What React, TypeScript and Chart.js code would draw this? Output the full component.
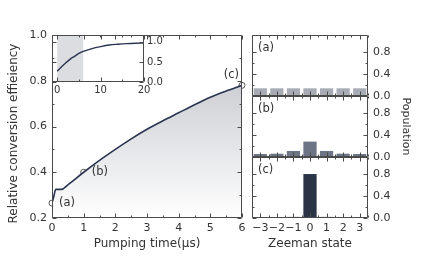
import React, { useEffect, useRef } from 'react';
import { Chart, registerables } from 'chart.js';

Chart.register(...registerables);

// ---------- data ----------
const pumpTime = [0, 0.05, 0.12, 0.3, 0.5, 1, 1.5, 2, 2.5, 3, 3.5, 4, 4.5, 5, 5.5, 6];
const efficiency = [0.265, 0.29, 0.325, 0.325, 0.345, 0.4, 0.452, 0.5, 0.546, 0.588, 0.625, 0.66, 0.695, 0.728, 0.755, 0.78];
const markerTime = [0, 1, 6];
const markerEff = [0.265, 0.4, 0.78];
const markerLabels = ['(a)', '(b)', '(c)'];

const insetTime = [0, 1, 2, 3, 4, 5, 6, 8, 10, 12, 14, 16, 18, 20];
const insetEff = [0.27, 0.38, 0.48, 0.57, 0.64, 0.71, 0.76, 0.83, 0.88, 0.92, 0.94, 0.955, 0.965, 0.97];
const insetShade = [0, 6];

const zeemanStates = ['\u22123', '\u22122', '\u22121', '0', '1', '2', '3'];
const populationA = [0.14, 0.14, 0.14, 0.14, 0.14, 0.14, 0.14];
const populationB = [0.055, 0.06, 0.11, 0.28, 0.11, 0.06, 0.055];
const populationC = [0.005, 0.005, 0.02, 0.8, 0.02, 0.005, 0.005];
const panelLetters = ['(a)', '(b)', '(c)'];

const mainXTicks = [0, 1, 2, 3, 4, 5, 6];
const mainYTicks = [0.2, 0.4, 0.6, 0.8, 1.0];
const insetXTicks = [0, 10, 20];
const insetYTicks = [0, 0.5, 1.0];
const panelYTicks = [0, 0.4, 0.8];

// ---------- style ----------
const FONT = 'DejaVu Sans';
const AXIS = '#4a4a4a';
const TEXT = '#333333';
const LINE = '#2a3350';
const BAR_COLORS = ['#a8acb5', '#6d7485', '#2b3447'];

// ---------- plugins ----------
const frameTicks = {
  id: 'frameTicks',
  afterDatasetsDraw(chart: any, _a: any, o: any) {
    if (!o || !o.on) return;
    const { ctx, chartArea: a, scales } = chart;
    const L = Math.round(a.left) + 0.5;
    const R = Math.round(a.right) - 0.5;
    const T = Math.round(a.top) + 0.5;
    const B = Math.round(a.bottom) - 0.5;
    ctx.save();
    ctx.strokeStyle = o.color;
    ctx.lineWidth = 1;
    ctx.beginPath();
    ctx.moveTo(L, T);
    ctx.lineTo(R, T);
    ctx.lineTo(R, B);
    ctx.lineTo(L, B);
    ctx.lineTo(L, T);
    ctx.stroke();
    ctx.beginPath();
    const xs = scales.x;
    const ys = scales.y;
    const xt = (vals: number[], len: number) => {
      vals.forEach((v) => {
        const p = Math.round(xs.getPixelForValue(v)) + 0.5;
        ctx.moveTo(p, B);
        ctx.lineTo(p, B - len);
        ctx.moveTo(p, T);
        ctx.lineTo(p, T + len);
      });
    };
    const yt = (vals: number[], len: number) => {
      vals.forEach((v) => {
        const p = Math.round(ys.getPixelForValue(v)) + 0.5;
        ctx.moveTo(L, p);
        ctx.lineTo(L + len, p);
        ctx.moveTo(R, p);
        ctx.lineTo(R - len, p);
      });
    };
    xt(o.xMajor, 4);
    xt(o.xMinor, 2);
    yt(o.yMajor, 4);
    yt(o.yMinor, 2);
    ctx.stroke();
    ctx.restore();
  },
};

const textTags = {
  id: 'textTags',
  afterDatasetsDraw(chart: any, _a: any, o: any) {
    if (!o || !o.on) return;
    const { ctx, chartArea: a } = chart;
    ctx.save();
    ctx.font = `${o.size}px "${FONT}"`;
    ctx.fillStyle = TEXT;
    ctx.textBaseline = 'middle';
    if (o.dataset !== undefined) {
      const meta = chart.getDatasetMeta(o.dataset);
      meta.data.forEach((p: any, i: number) => {
        const [dx, dy, align] = o.offsets[i];
        ctx.textAlign = align;
        ctx.fillText(o.labels[i], p.x + dx, p.y + dy);
      });
    } else {
      ctx.textAlign = 'left';
      ctx.fillText(o.text, a.left + 6, a.top + 13);
    }
    ctx.restore();
  },
};

const sideTitle = {
  id: 'sideTitle',
  afterDraw(chart: any, _a: any, o: any) {
    if (!o || !o.on) return;
    const { ctx, chartArea: a } = chart;
    ctx.save();
    ctx.font = `${o.size}px "${FONT}"`;
    ctx.fillStyle = TEXT;
    ctx.textAlign = 'center';
    ctx.textBaseline = 'middle';
    ctx.translate(o.x, (a.top + a.bottom) / 2 + o.dy);
    ctx.rotate(-Math.PI / 2);
    ctx.fillText(o.text, 0, 0);
    ctx.restore();
  },
};

const shade = {
  id: 'shade',
  beforeDatasetsDraw(chart: any, _a: any, o: any) {
    if (!o || !o.on) return;
    const { ctx, chartArea: a, scales } = chart;
    const x0 = scales.x.getPixelForValue(o.range[0]);
    const x1 = scales.x.getPixelForValue(o.range[1]);
    ctx.save();
    ctx.fillStyle = o.color;
    ctx.fillRect(x0, a.top, x1 - x0, a.bottom - a.top);
    ctx.restore();
  },
};

Chart.register(frameTicks as any, textTags as any, shade as any, sideTitle as any);

const tickFont = (size: number) => ({ family: FONT, size });

function fixedTicks(vals: number[]) {
  return (s: any) => {
    s.ticks = vals.map((v) => ({ value: v }));
  };
}

function vFit(width: number) {
  return (s: any) => {
    s.width = width;
    s.paddingTop = 0;
    s.paddingBottom = 0;
  };
}

// ---------- chart configs ----------
function mainConfig(): any {
  return {
    type: 'line',
    data: {
      datasets: [
        {
          data: pumpTime.map((x, i) => ({ x, y: efficiency[i] })),
          borderColor: LINE,
          borderWidth: 1.6,
          pointRadius: 0,
          cubicInterpolationMode: 'monotone',
          fill: 'start',
          backgroundColor: (c: any) => {
            const area = c.chart.chartArea;
            if (!area) return 'rgba(0,0,0,0)';
            const g = c.chart.ctx.createLinearGradient(0, area.top, 0, area.bottom);
            g.addColorStop(0, '#c3c6cc');
            g.addColorStop(0.3, '#cfd1d6');
            g.addColorStop(1, '#ffffff');
            return g;
          },
        },
        {
          data: markerTime.map((x, i) => ({ x, y: markerEff[i] })),
          showLine: false,
          pointRadius: 3,
          pointBorderWidth: 1,
          pointBorderColor: '#555555',
          pointBackgroundColor: 'rgba(255,255,255,0.35)',
          clip: false,
        },
      ],
    },
    options: {
      responsive: false,
      animation: false,
      events: [],
      layout: { padding: { left: 0, top: 35, right: 8, bottom: 0 } },
      plugins: {
        legend: { display: false },
        tooltip: { enabled: false },
        frameTicks: {
          on: true,
          color: AXIS,
          xMajor: mainXTicks,
          xMinor: mainXTicks.slice(0, -1).map((v) => v + 0.5),
          yMajor: mainYTicks,
          yMinor: mainYTicks.slice(0, -1).map((v) => v + 0.1),
        },
        textTags: {
          on: true,
          dataset: 1,
          size: 11.5,
          labels: markerLabels,
          offsets: [
            [7, 0, 'left'],
            [8, 0, 'left'],
            [-3, -10, 'right'],
          ],
        },
        sideTitle: { on: true, text: 'Relative conversion effieiency', size: 12, x: 14, dy: 7 },
      },
      scales: {
        x: {
          type: 'linear',
          min: 0,
          max: 6,
          afterFit: (s: any) => {
            s.height = 54;
          },
          afterBuildTicks: fixedTicks(mainXTicks),
          grid: { display: false, drawTicks: false },
          border: { display: false },
          ticks: { padding: 4, color: TEXT, font: tickFont(11), maxRotation: 0 },
          title: {
            display: true,
            text: 'Pumping time(\u03bcs)',
            color: TEXT,
            font: { family: FONT, size: 12 },
            padding: { top: 0, bottom: 21 },
          },
        },
        y: {
          type: 'linear',
          min: 0.2,
          max: 1.0,
          afterFit: vFit(52),
          afterBuildTicks: fixedTicks(mainYTicks),
          grid: { display: false, drawTicks: false },
          border: { display: false },
          ticks: { padding: 5, color: TEXT, font: tickFont(11), callback: (v: number) => v.toFixed(1) },
          title: { display: false },
        },
      },
    },
  };
}

function insetConfig(): any {
  return {
    type: 'line',
    data: {
      datasets: [
        {
          data: insetTime.map((x, i) => ({ x, y: insetEff[i] })),
          borderColor: LINE,
          borderWidth: 1.4,
          pointRadius: 0,
          cubicInterpolationMode: 'monotone',
          fill: false,
        },
      ],
    },
    options: {
      responsive: false,
      animation: false,
      events: [],
      layout: { padding: { left: 6, top: 5, right: 0, bottom: 0 } },
      plugins: {
        legend: { display: false },
        tooltip: { enabled: false },
        shade: { on: true, range: insetShade, color: '#dcdde0' },
        frameTicks: {
          on: true,
          color: AXIS,
          xMajor: insetXTicks,
          xMinor: [5, 15],
          yMajor: insetYTicks,
          yMinor: [],
        },
      },
      scales: {
        x: {
          type: 'linear',
          min: -1.2,
          max: 20,
          afterFit: (s: any) => {
            s.height = 16;
          },
          afterBuildTicks: fixedTicks(insetXTicks),
          grid: { display: false, drawTicks: false },
          border: { display: false },
          ticks: { padding: 2, color: TEXT, font: tickFont(10), maxRotation: 0 },
        },
        y: {
          type: 'linear',
          position: 'right',
          min: 0,
          max: 1.17,
          afterFit: vFit(26),
          afterBuildTicks: fixedTicks(insetYTicks),
          grid: { display: false, drawTicks: false },
          border: { display: false },
          ticks: { padding: 3, color: TEXT, font: tickFont(10), callback: (v: number) => v.toFixed(1) },
        },
      },
    },
  };
}

function panelConfig(idx: number): any {
  const values = [populationA, populationB, populationC][idx];
  const last = idx === 2;
  return {
    type: 'bar',
    data: {
      labels: zeemanStates,
      datasets: [
        {
          data: values,
          backgroundColor: BAR_COLORS[idx],
          borderWidth: 0,
          barPercentage: 0.8,
          categoryPercentage: 1,
        },
      ],
    },
    options: {
      responsive: false,
      animation: false,
      events: [],
      layout: { padding: { left: 8, top: 6, right: 0, bottom: last ? 0 : 6 } },
      plugins: {
        legend: { display: false },
        tooltip: { enabled: false },
        frameTicks: {
          on: true,
          color: AXIS,
          xMajor: [0, 1, 2, 3, 4, 5, 6],
          xMinor: [-0.5, 0.5, 1.5, 2.5, 3.5, 4.5, 5.5, 6.5],
          yMajor: panelYTicks,
          yMinor: [0.2, 0.6],
        },
        textTags: { on: true, text: panelLetters[idx], size: 11.5 },
      },
      scales: {
        x: {
          type: 'category',
          display: last,
          afterFit: (s: any) => {
            if (last) s.height = 54;
          },
          grid: { display: false, drawTicks: false },
          border: { display: false },
          ticks: { padding: 4, color: TEXT, font: tickFont(11), maxRotation: 0, autoSkip: false },
          title: {
            display: last,
            text: 'Zeeman state',
            color: TEXT,
            font: { family: FONT, size: 12 },
            padding: { top: 0, bottom: 21 },
          },
        },
        y: {
          type: 'linear',
          position: 'right',
          min: 0,
          max: 1.11,
          afterFit: vFit(64),
          afterBuildTicks: fixedTicks(panelYTicks),
          grid: { display: false, drawTicks: false },
          border: { display: false },
          ticks: { padding: 5, color: TEXT, font: tickFont(11), callback: (v: number) => v.toFixed(1) },
          title: {
            display: idx === 1,
            text: 'Population',
            color: TEXT,
            font: { family: FONT, size: 11 },
            padding: { top: 20, bottom: 0 },
          },
        },
      },
    },
  };
}

// ---------- components ----------
function ChartCanvas(props: { left: number; top: number; width: number; height: number; make: () => any }) {
  const ref = useRef<HTMLCanvasElement | null>(null);
  useEffect(() => {
    if (!ref.current) return;
    const chart = new Chart(ref.current, props.make());
    return () => chart.destroy();
  }, []);
  return (
    <canvas
      ref={ref}
      width={props.width}
      height={props.height}
      style={{
        position: 'absolute',
        left: props.left,
        top: props.top,
        width: props.width,
        height: props.height,
      }}
    />
  );
}

export default function App() {
  return (
    <div
      style={{
        position: 'fixed',
        left: 0,
        top: 0,
        width: 432,
        height: 272,
        background: '#ffffff',
        overflow: 'hidden',
      }}
    >
      <ChartCanvas left={0} top={0} width={250} height={272} make={mainConfig} />
      <ChartCanvas left={46} top={30} width={124} height={68} make={insetConfig} />
      <ChartCanvas left={244} top={29} width={188} height={73} make={() => panelConfig(0)} />
      <ChartCanvas left={244} top={90} width={188} height={73} make={() => panelConfig(1)} />
      <ChartCanvas left={244} top={151} width={188} height={121} make={() => panelConfig(2)} />
    </div>
  );
}
